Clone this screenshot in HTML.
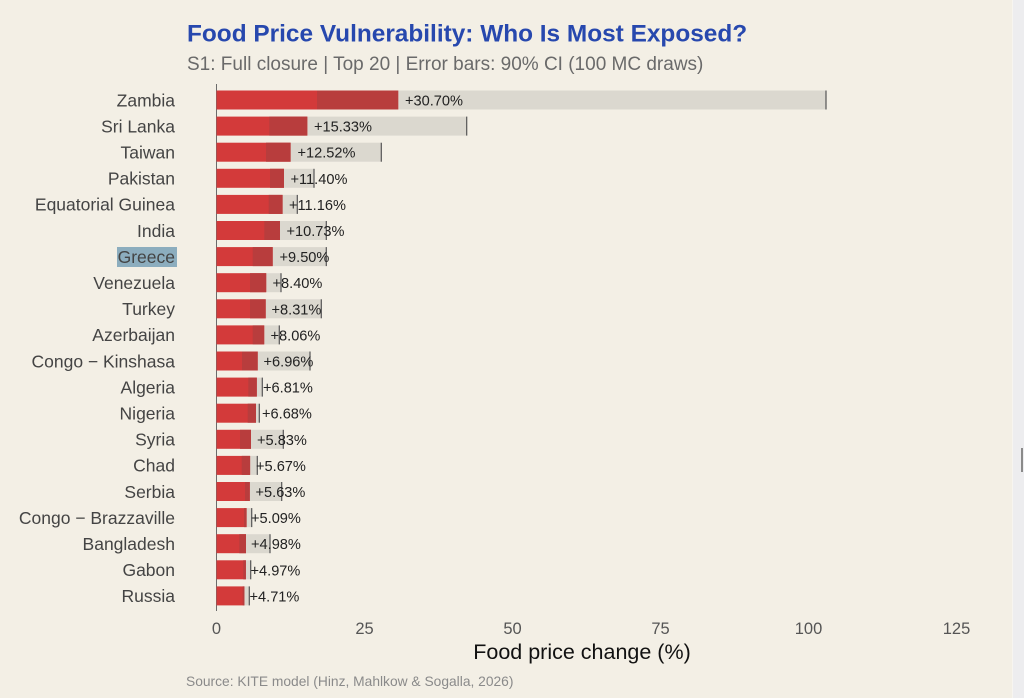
<!DOCTYPE html>
<html><head><meta charset="utf-8"><style>
html,body{margin:0;padding:0;background:#f3efe5;}
svg{display:block;}
text{font-family:"Liberation Sans",Arial,sans-serif;}
</style></head><body>
<svg width="1024" height="698" viewBox="0 0 1024 698" xmlns="http://www.w3.org/2000/svg">
<rect x="0" y="0" width="1024" height="698" fill="#f3efe5"/>
<rect x="1012" y="0" width="12" height="698" fill="#ededef"/>
<rect x="1012" y="0" width="1" height="698" fill="#f7f5f0"/>
<rect x="1021" y="448" width="2" height="24" fill="#8a8a8a"/>

<text x="187" y="41.5" font-size="24.4" font-weight="bold" fill="#2748ae">Food Price Vulnerability: Who Is Most Exposed?</text>
<text x="187" y="70" font-size="19" fill="#6a6a6a">S1: Full closure | Top 20 | Error bars: 90% CI (100 MC draws)</text>

<line x1="216.5" y1="84" x2="216.5" y2="611" stroke="#6b6b6b" stroke-width="1"/>

<g font-size="16.5" fill="#555" text-anchor="middle">
<text x="216.5" y="634">0</text>
<text x="364.5" y="634">25</text>
<text x="512.5" y="634">50</text>
<text x="660.5" y="634">75</text>
<text x="808.5" y="634">100</text>
<text x="956.5" y="634">125</text>
</g>
<text x="582" y="659" font-size="21.5" fill="#111" text-anchor="middle">Food price change (%)</text>
<text x="186" y="686" font-size="13.8" fill="#8a8a8a">Source: KITE model (Hinz, Mahlkow &amp; Sogalla, 2026)</text>

<rect x="117" y="247" width="60" height="20" fill="#8cadbe"/>
<g font-size="17.5" fill="#444" text-anchor="end">
<text x="175" y="106.3">Zambia</text>
<text x="175" y="132.4">Sri Lanka</text>
<text x="175" y="158.5">Taiwan</text>
<text x="175" y="184.6">Pakistan</text>
<text x="175" y="210.7">Equatorial Guinea</text>
<text x="175" y="236.8">India</text>
<text x="175" y="262.9">Greece</text>
<text x="175" y="289.0">Venezuela</text>
<text x="175" y="315.1">Turkey</text>
<text x="175" y="341.2">Azerbaijan</text>
<text x="175" y="367.3">Congo − Kinshasa</text>
<text x="175" y="393.4">Algeria</text>
<text x="175" y="419.5">Nigeria</text>
<text x="175" y="445.6">Syria</text>
<text x="175" y="471.7">Chad</text>
<text x="175" y="497.8">Serbia</text>
<text x="175" y="523.9">Congo − Brazzaville</text>
<text x="175" y="550.0">Bangladesh</text>
<text x="175" y="576.1">Gabon</text>
<text x="175" y="602.2">Russia</text>
</g>

<g>
<!-- Zambia -->
<rect x="317" y="90.5" width="509" height="19" fill="#dbd8cf"/>
<rect x="216.5" y="90.5" width="181.7" height="19" fill="#d33a3a"/>
<rect x="317" y="90.5" width="81.2" height="19" fill="#b83d3d"/>
<line x1="826" y1="90.5" x2="826" y2="109.5" stroke="#555" stroke-width="1.2"/>
<text x="405" y="105.5" font-size="14.6" fill="#222">+30.70%</text>
<!-- Sri Lanka -->
<rect x="269.3" y="116.6" width="197.4" height="19" fill="#dbd8cf"/>
<rect x="216.5" y="116.6" width="90.8" height="19" fill="#d33a3a"/>
<rect x="269.3" y="116.6" width="38" height="19" fill="#b83d3d"/>
<line x1="466.7" y1="116.6" x2="466.7" y2="135.6" stroke="#555" stroke-width="1.2"/>
<text x="314" y="131.6" font-size="14.6" fill="#222">+15.33%</text>
<!-- Taiwan -->
<rect x="266" y="142.7" width="115.3" height="19" fill="#dbd8cf"/>
<rect x="216.5" y="142.7" width="74.1" height="19" fill="#d33a3a"/>
<rect x="266" y="142.7" width="24.6" height="19" fill="#b83d3d"/>
<line x1="381.3" y1="142.7" x2="381.3" y2="161.7" stroke="#555" stroke-width="1.2"/>
<text x="297.5" y="157.7" font-size="14.6" fill="#222">+12.52%</text>
<!-- Pakistan -->
<rect x="270" y="168.8" width="44" height="19" fill="#dbd8cf"/>
<rect x="216.5" y="168.8" width="67.5" height="19" fill="#d33a3a"/>
<rect x="270" y="168.8" width="14" height="19" fill="#b83d3d"/>
<line x1="314" y1="168.8" x2="314" y2="187.8" stroke="#555" stroke-width="1.2"/>
<text x="290.5" y="183.8" font-size="14.6" fill="#222">+11.40%</text>
<!-- Equatorial Guinea -->
<rect x="268.7" y="194.9" width="28.6" height="19" fill="#dbd8cf"/>
<rect x="216.5" y="194.9" width="66.1" height="19" fill="#d33a3a"/>
<rect x="268.7" y="194.9" width="13.9" height="19" fill="#b83d3d"/>
<line x1="297.3" y1="194.9" x2="297.3" y2="213.9" stroke="#555" stroke-width="1.2"/>
<text x="289" y="209.9" font-size="14.6" fill="#222">+11.16%</text>
<!-- India -->
<rect x="264.3" y="221" width="62" height="19" fill="#dbd8cf"/>
<rect x="216.5" y="221" width="63.5" height="19" fill="#d33a3a"/>
<rect x="264.3" y="221" width="15.7" height="19" fill="#b83d3d"/>
<line x1="326.3" y1="221" x2="326.3" y2="240" stroke="#555" stroke-width="1.2"/>
<text x="286.5" y="236" font-size="14.6" fill="#222">+10.73%</text>
<!-- Greece -->
<rect x="252.7" y="247.1" width="73.6" height="19" fill="#dbd8cf"/>
<rect x="216.5" y="247.1" width="56.2" height="19" fill="#d33a3a"/>
<rect x="252.7" y="247.1" width="20" height="19" fill="#b83d3d"/>
<line x1="326.3" y1="247.1" x2="326.3" y2="266.1" stroke="#555" stroke-width="1.2"/>
<text x="279.5" y="262.1" font-size="14.6" fill="#222">+9.50%</text>
<!-- Venezuela -->
<rect x="250" y="273.2" width="31" height="19" fill="#dbd8cf"/>
<rect x="216.5" y="273.2" width="49.7" height="19" fill="#d33a3a"/>
<rect x="250" y="273.2" width="16.2" height="19" fill="#b83d3d"/>
<line x1="281" y1="273.2" x2="281" y2="292.2" stroke="#555" stroke-width="1.2"/>
<text x="272.5" y="288.2" font-size="14.6" fill="#222">+8.40%</text>
<!-- Turkey -->
<rect x="250" y="299.3" width="71.3" height="19" fill="#dbd8cf"/>
<rect x="216.5" y="299.3" width="49.2" height="19" fill="#d33a3a"/>
<rect x="250" y="299.3" width="15.7" height="19" fill="#b83d3d"/>
<line x1="321.3" y1="299.3" x2="321.3" y2="318.3" stroke="#555" stroke-width="1.2"/>
<text x="271.5" y="314.3" font-size="14.6" fill="#222">+8.31%</text>
<!-- Azerbaijan -->
<rect x="252.7" y="325.4" width="26.6" height="19" fill="#dbd8cf"/>
<rect x="216.5" y="325.4" width="47.7" height="19" fill="#d33a3a"/>
<rect x="252.7" y="325.4" width="11.5" height="19" fill="#b83d3d"/>
<line x1="279.3" y1="325.4" x2="279.3" y2="344.4" stroke="#555" stroke-width="1.2"/>
<text x="270.5" y="340.4" font-size="14.6" fill="#222">+8.06%</text>
<!-- Congo Kinshasa -->
<rect x="242" y="351.5" width="68" height="19" fill="#dbd8cf"/>
<rect x="216.5" y="351.5" width="41.2" height="19" fill="#d33a3a"/>
<rect x="242" y="351.5" width="15.7" height="19" fill="#b83d3d"/>
<line x1="310" y1="351.5" x2="310" y2="370.5" stroke="#555" stroke-width="1.2"/>
<text x="263.5" y="366.5" font-size="14.6" fill="#222">+6.96%</text>
<!-- Algeria -->
<rect x="248.3" y="377.6" width="14" height="19" fill="#dbd8cf"/>
<rect x="216.5" y="377.6" width="40.3" height="19" fill="#d33a3a"/>
<rect x="248.3" y="377.6" width="8.5" height="19" fill="#b83d3d"/>
<line x1="262.3" y1="377.6" x2="262.3" y2="396.6" stroke="#555" stroke-width="1.2"/>
<text x="263" y="392.6" font-size="14.6" fill="#222">+6.81%</text>
<!-- Nigeria -->
<rect x="247.7" y="403.7" width="11.6" height="19" fill="#dbd8cf"/>
<rect x="216.5" y="403.7" width="39.5" height="19" fill="#d33a3a"/>
<rect x="247.7" y="403.7" width="8.3" height="19" fill="#b83d3d"/>
<line x1="259.3" y1="403.7" x2="259.3" y2="422.7" stroke="#555" stroke-width="1.2"/>
<text x="262" y="418.7" font-size="14.6" fill="#222">+6.68%</text>
<!-- Syria -->
<rect x="240" y="429.8" width="43.3" height="19" fill="#dbd8cf"/>
<rect x="216.5" y="429.8" width="34.5" height="19" fill="#d33a3a"/>
<rect x="240" y="429.8" width="11" height="19" fill="#b83d3d"/>
<line x1="283.3" y1="429.8" x2="283.3" y2="448.8" stroke="#555" stroke-width="1.2"/>
<text x="257" y="444.8" font-size="14.6" fill="#222">+5.83%</text>
<!-- Chad -->
<rect x="241.7" y="455.9" width="15.6" height="19" fill="#dbd8cf"/>
<rect x="216.5" y="455.9" width="33.6" height="19" fill="#d33a3a"/>
<rect x="241.7" y="455.9" width="8.4" height="19" fill="#b83d3d"/>
<line x1="257.3" y1="455.9" x2="257.3" y2="474.9" stroke="#555" stroke-width="1.2"/>
<text x="256" y="470.9" font-size="14.6" fill="#222">+5.67%</text>
<!-- Serbia -->
<rect x="245" y="482" width="36.7" height="19" fill="#dbd8cf"/>
<rect x="216.5" y="482" width="33.3" height="19" fill="#d33a3a"/>
<rect x="245" y="482" width="4.8" height="19" fill="#b83d3d"/>
<line x1="281.7" y1="482" x2="281.7" y2="501" stroke="#555" stroke-width="1.2"/>
<text x="255.5" y="497" font-size="14.6" fill="#222">+5.63%</text>
<!-- Congo Brazzaville -->
<rect x="244" y="508.1" width="7.7" height="19" fill="#dbd8cf"/>
<rect x="216.5" y="508.1" width="30.1" height="19" fill="#d33a3a"/>
<rect x="244" y="508.1" width="2.6" height="19" fill="#b83d3d"/>
<line x1="251.7" y1="508.1" x2="251.7" y2="527.1" stroke="#555" stroke-width="1.2"/>
<text x="251" y="523.1" font-size="14.6" fill="#222">+5.09%</text>
<!-- Bangladesh -->
<rect x="239.3" y="534.2" width="30.7" height="19" fill="#dbd8cf"/>
<rect x="216.5" y="534.2" width="29.5" height="19" fill="#d33a3a"/>
<rect x="239.3" y="534.2" width="6.7" height="19" fill="#b83d3d"/>
<line x1="270" y1="534.2" x2="270" y2="553.2" stroke="#555" stroke-width="1.2"/>
<text x="251" y="549.2" font-size="14.6" fill="#222">+4.98%</text>
<!-- Gabon -->
<rect x="243.3" y="560.3" width="7.4" height="19" fill="#dbd8cf"/>
<rect x="216.5" y="560.3" width="29.4" height="19" fill="#d33a3a"/>
<rect x="243.3" y="560.3" width="2.6" height="19" fill="#b83d3d"/>
<line x1="250.7" y1="560.3" x2="250.7" y2="579.3" stroke="#555" stroke-width="1.2"/>
<text x="250.5" y="575.3" font-size="14.6" fill="#222">+4.97%</text>
<!-- Russia -->
<rect x="242.7" y="586.4" width="6.6" height="19" fill="#dbd8cf"/>
<rect x="216.5" y="586.4" width="27.9" height="19" fill="#d33a3a"/>
<rect x="242.7" y="586.4" width="1.7" height="19" fill="#b83d3d"/>
<line x1="249.3" y1="586.4" x2="249.3" y2="605.4" stroke="#555" stroke-width="1.2"/>
<text x="249.5" y="601.4" font-size="14.6" fill="#222">+4.71%</text>
</g>
</svg>
</body></html>
